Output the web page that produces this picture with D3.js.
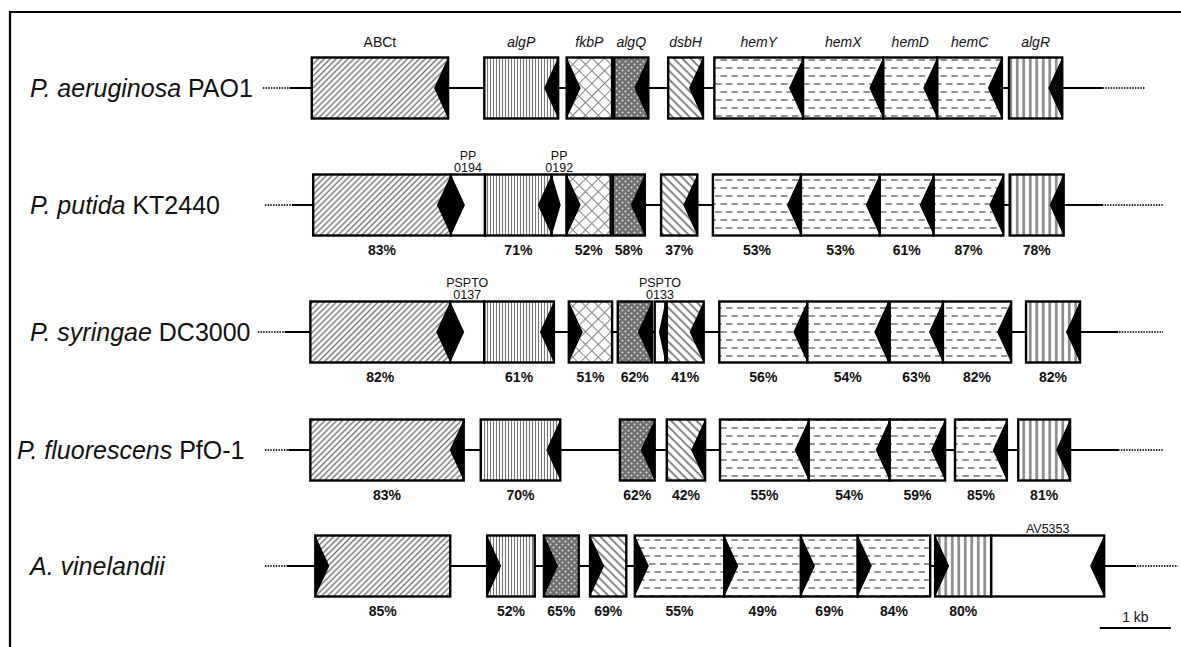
<!DOCTYPE html>
<html>
<head>
<meta charset="utf-8">
<script src="https://cdn.jsdelivr.net/npm/d3@7"></script>
<style>
  body { margin: 0; background: #fff; }
  svg { display: block; font-family: "Liberation Sans", Arial, Helvetica, sans-serif; }
</style>
</head>
<body>
<div id="chart"></div>
<script>
// row labels
const organisms = [
  { species: "P. aeruginosa", strain: " PAO1" },
  { species: "P. putida", strain: " KT2440" },
  { species: "P. syringae", strain: " DC3000" },
  { species: "P. fluorescens", strain: " PfO-1" },
  { species: "A. vinelandii", strain: "" }
];

// gene names printed above the PAO1 row
const geneNames = ["ABCt", "algP", "fkbP", "algQ", "dsbH", "hemY", "hemX", "hemD", "hemC", "algR"];

// genes per strain: start / end in kb, strand (-1 leftward, 1 rightward), identity to PAO1 in %
const pao1 = [
  { gene: "ABCt", start: 0.87, end: 2.79, strand: -1 },
  { gene: "algP", start: 3.30, end: 4.34, strand: -1 },
  { gene: "fkbP", start: 4.46, end: 5.10, strand: 1 },
  { gene: "algQ", start: 5.13, end: 5.61, strand: -1 },
  { gene: "dsbH", start: 5.89, end: 6.38, strand: -1 },
  { gene: "hemY", start: 6.54, end: 7.79, strand: -1 },
  { gene: "hemX", start: 7.79, end: 8.92, strand: -1 },
  { gene: "hemD", start: 8.92, end: 9.68, strand: -1 },
  { gene: "hemC", start: 9.68, end: 10.59, strand: -1 },
  { gene: "algR", start: 10.69, end: 11.44, strand: -1 }
];

const kt2440 = [
  { gene: "ABCt", start: 0.89, end: 2.83, strand: -1, id: 83 },
  { gene: "orf", start: 2.83, end: 3.31, strand: 1, tag: ["PP", "0194"] },
  { gene: "algP", start: 3.31, end: 4.25, strand: -1, id: 71 },
  { gene: "orf", start: 4.25, end: 4.46, strand: 1, tag: ["PP", "0192"] },
  { gene: "fkbP", start: 4.46, end: 5.08, strand: 1, id: 52 },
  { gene: "algQ", start: 5.11, end: 5.56, strand: -1, id: 58 },
  { gene: "dsbH", start: 5.79, end: 6.30, strand: -1, id: 37 },
  { gene: "hemY", start: 6.52, end: 7.76, strand: -1, id: 53 },
  { gene: "hemX", start: 7.76, end: 8.87, strand: -1, id: 53 },
  { gene: "hemD", start: 8.87, end: 9.63, strand: -1, id: 61 },
  { gene: "hemC", start: 9.63, end: 10.61, strand: -1, id: 87 },
  { gene: "algR", start: 10.70, end: 11.46, strand: -1, id: 78 }
];

const dc3000 = [
  { gene: "ABCt", start: 0.85, end: 2.82, strand: -1, id: 82 },
  { gene: "orf", start: 2.82, end: 3.30, strand: 1, tag: ["PSPTO", "0137"] },
  { gene: "algP", start: 3.30, end: 4.28, strand: -1, id: 61 },
  { gene: "fkbP", start: 4.49, end: 5.10, strand: 1, id: 51 },
  { gene: "algQ", start: 5.18, end: 5.66, strand: -1, id: 62 },
  { gene: "orf", start: 5.70, end: 5.85, strand: -1, tag: ["PSPTO", "0133"] },
  { gene: "dsbH", start: 5.87, end: 6.39, strand: -1, id: 41 },
  { gene: "hemY", start: 6.61, end: 7.85, strand: -1, id: 56 },
  { gene: "hemX", start: 7.85, end: 8.99, strand: -1, id: 54 },
  { gene: "hemD", start: 9.01, end: 9.76, strand: -1, id: 63 },
  { gene: "hemC", start: 9.76, end: 10.72, strand: -1, id: 82 },
  { gene: "algR", start: 10.93, end: 11.69, strand: -1, id: 82 }
];

const pfo1 = [
  { gene: "ABCt", start: 0.85, end: 3.01, strand: -1, id: 83 },
  { gene: "algP", start: 3.25, end: 4.37, strand: -1, id: 70 },
  { gene: "algQ", start: 5.21, end: 5.70, strand: -1, id: 62 },
  { gene: "dsbH", start: 5.87, end: 6.41, strand: -1, id: 42 },
  { gene: "hemY", start: 6.62, end: 7.87, strand: -1, id: 55 },
  { gene: "hemX", start: 7.87, end: 9.01, strand: -1, id: 54 },
  { gene: "hemD", start: 9.01, end: 9.79, strand: -1, id: 59 },
  { gene: "hemC", start: 9.93, end: 10.66, strand: -1, id: 85 },
  { gene: "algR", start: 10.82, end: 11.55, strand: -1, id: 81 }
];

const avin = [
  { gene: "ABCt", start: 0.92, end: 2.82, strand: 1, id: 85 },
  { gene: "algP", start: 3.34, end: 4.01, strand: 1, id: 52 },
  { gene: "algQ", start: 4.14, end: 4.63, strand: 1, id: 65 },
  { gene: "dsbH", start: 4.79, end: 5.30, strand: 1, id: 69 },
  { gene: "hemY", start: 5.42, end: 6.68, strand: 1, id: 55 },
  { gene: "hemX", start: 6.68, end: 7.76, strand: 1, id: 49 },
  { gene: "hemD", start: 7.76, end: 8.56, strand: 1, id: 69 },
  { gene: "hemC", start: 8.56, end: 9.58, strand: 1, id: 84 },
  { gene: "algR", start: 9.65, end: 10.44, strand: 1, id: 80 },
  { gene: "orf", start: 10.44, end: 12.03, strand: -1, tag: ["AV5353"] }
];

// chromosome backbone per row (kb): dotted ends and solid stretch
const backbones = [
  { dotted: [0.18, 12.61], solid: [0.56, 12.01] },
  { dotted: [0.21, 12.86], solid: [0.59, 12.01] },
  { dotted: [0.11, 12.86], solid: [0.49, 12.23] },
  { dotted: [0.21, 12.86], solid: [0.54, 12.23] },
  { dotted: [0.21, 13.07], solid: [0.52, 12.48] }
];

// 1 kb scale bar
const scaleBar = [11.97, 12.97];

const rows = [pao1, kt2440, dc3000, pfo1, avin];

const width = 1181, height = 647;
const boxH = 61, tipW = 14;

const x = d3.scaleLinear().domain([0, 13]).range([250, 250 + 13 * 71]);
const y = d3.scaleOrdinal().domain(d3.range(rows.length)).range([88, 205, 332, 450, 566]);

const svg = d3.select("#chart").append("svg")
  .attr("width", width)
  .attr("height", height);

// fill patterns for each gene family
const defs = svg.append("defs");

function linePattern(id, size, strokeW, color, angle) {
  const p = defs.append("pattern")
    .attr("id", id)
    .attr("patternUnits", "userSpaceOnUse")
    .attr("width", size).attr("height", size)
    .attr("patternTransform", `rotate(${angle})`);
  p.append("rect").attr("width", size).attr("height", size).attr("fill", "#fff");
  p.append("line")
    .attr("x1", size / 2).attr("x2", size / 2)
    .attr("y1", 0).attr("y2", size)
    .attr("stroke", color).attr("stroke-width", strokeW);
}

linePattern("pat-ABCt", 4.2, 1.4, "#707070", 45);
linePattern("pat-algP", 3, 1.1, "#777", 0);
linePattern("pat-dsbH", 6, 2, "#888", -45);
linePattern("pat-algR", 6.5, 2.6, "#888", 0);

// crosshatch
const cross = defs.append("pattern")
  .attr("id", "pat-fkbP")
  .attr("patternUnits", "userSpaceOnUse")
  .attr("width", 9).attr("height", 9)
  .attr("patternTransform", "rotate(45)");
cross.append("rect").attr("width", 9).attr("height", 9).attr("fill", "#fff");
cross.append("line").attr("x1", 0).attr("x2", 9).attr("y1", 0.5).attr("y2", 0.5)
  .attr("stroke", "#888").attr("stroke-width", 1.1);
cross.append("line").attr("x1", 0.5).attr("x2", 0.5).attr("y1", 0).attr("y2", 9)
  .attr("stroke", "#888").attr("stroke-width", 1.1);

// dark dotted
const dots = defs.append("pattern")
  .attr("id", "pat-algQ")
  .attr("patternUnits", "userSpaceOnUse")
  .attr("width", 6).attr("height", 6);
dots.append("rect").attr("width", 6).attr("height", 6).attr("fill", "#6f6f6f");
dots.append("circle").attr("cx", 1.5).attr("cy", 1.5).attr("r", 1).attr("fill", "#ddd");
dots.append("circle").attr("cx", 4.5).attr("cy", 4.5).attr("r", 1).attr("fill", "#ddd");

// dashes for the hem genes
const dash = defs.append("pattern")
  .attr("id", "pat-hem")
  .attr("patternUnits", "userSpaceOnUse")
  .attr("width", 11).attr("height", 16);
dash.append("rect").attr("width", 11).attr("height", 16).attr("fill", "#fff");
dash.append("line").attr("x1", 0).attr("x2", 6.5).attr("y1", 4).attr("y2", 4)
  .attr("stroke", "#808080").attr("stroke-width", 1.7);
dash.append("line").attr("x1", 5.5).attr("x2", 12).attr("y1", 12).attr("y2", 12)
  .attr("stroke", "#808080").attr("stroke-width", 1.7);
dash.append("line").attr("x1", -5.5).attr("x2", 1).attr("y1", 12).attr("y2", 12)
  .attr("stroke", "#808080").attr("stroke-width", 1.7);

function fillFor(gene) {
  if (gene.startsWith("hem")) return "url(#pat-hem)";
  if (gene === "orf") return "#fff";
  return `url(#pat-${gene})`;
}

// frame
svg.append("line")
  .attr("x1", 9).attr("x2", width).attr("y1", 12).attr("y2", 12)
  .attr("stroke", "#000").attr("stroke-width", 2.2);
svg.append("line")
  .attr("x1", 10).attr("x2", 10).attr("y1", 11).attr("y2", height)
  .attr("stroke", "#000").attr("stroke-width", 2.2);

rows.forEach((genes, i) => {
  const cy = y(i);
  const top = cy - boxH / 2, bottom = cy + boxH / 2;
  const g = svg.append("g");

  // organism name
  const label = g.append("text")
    .attr("x", i === 3 ? 17 : 30)
    .attr("y", cy + 9)
    .attr("font-size", 25)
    .attr("fill", "#111");
  label.append("tspan").attr("font-style", "italic").text(organisms[i].species);
  label.append("tspan").text(organisms[i].strain);

  // backbone
  const bb = backbones[i];
  g.append("line")
    .attr("x1", x(bb.dotted[0])).attr("x2", x(bb.dotted[1]))
    .attr("y1", cy).attr("y2", cy)
    .attr("stroke", "#333").attr("stroke-width", 2)
    .attr("stroke-dasharray", "1.5,1.2");
  g.append("line")
    .attr("x1", x(bb.solid[0])).attr("x2", x(bb.solid[1]))
    .attr("y1", cy).attr("y2", cy)
    .attr("stroke", "#000").attr("stroke-width", 2.2);

  const gene = g.selectAll("g.gene")
    .data(genes)
    .enter()
    .append("g")
    .attr("class", "gene");

  gene.append("rect")
    .attr("x", d => x(d.start))
    .attr("y", top)
    .attr("width", d => x(d.end) - x(d.start))
    .attr("height", boxH)
    .attr("fill", d => fillFor(d.gene));

  // black arrowhead notch
  gene.append("path")
    .attr("d", d => {
      const x0 = x(d.start), x1 = x(d.end);
      const w = Math.min(tipW, (x1 - x0) * 0.6);
      if (d.strand < 0) return `M${x1},${top}L${x1 - w},${cy}L${x1},${bottom}Z`;
      return `M${x0},${top}L${x0 + w},${cy}L${x0},${bottom}Z`;
    })
    .attr("fill", "#000");

  gene.append("rect")
    .attr("x", d => x(d.start))
    .attr("y", top)
    .attr("width", d => x(d.end) - x(d.start))
    .attr("height", boxH)
    .attr("fill", "none")
    .attr("stroke", "#000")
    .attr("stroke-width", 2.4);

  // identity percentages
  gene.filter(d => d.id != null)
    .append("text")
    .attr("x", d => x((d.start + d.end) / 2))
    .attr("y", bottom + 19)
    .attr("text-anchor", "middle")
    .attr("font-size", 14)
    .attr("font-weight", "bold")
    .attr("fill", "#111")
    .text(d => d.id + "%");

  // small ORF tags (two stacked lines for PP / PSPTO)
  gene.filter(d => d.tag)
    .each(function (d) {
      const n = d.tag.length;
      d.tag.forEach((t, k) => {
        d3.select(this).append("text")
          .attr("x", x((d.start + d.end) / 2))
          .attr("y", top - 3 - (n - 1 - k) * 12)
          .attr("text-anchor", "middle")
          .attr("font-size", 12.5)
          .attr("fill", "#111")
          .text(t);
      });
    });

  // gene names over the first row
  if (i === 0) {
    gene.append("text")
      .attr("x", d => x((d.start + d.end) / 2))
      .attr("y", top - 11)
      .attr("text-anchor", "middle")
      .attr("font-size", 14)
      .attr("font-style", d => d.gene === "ABCt" ? "normal" : "italic")
      .attr("fill", "#111")
      .text((d, k) => geneNames[k]);
  }
});

// scale bar
const yBar = y(4) + 62;
svg.append("line")
  .attr("x1", x(scaleBar[0])).attr("x2", x(scaleBar[1]))
  .attr("y1", yBar).attr("y2", yBar)
  .attr("stroke", "#000").attr("stroke-width", 2.2);
svg.append("text")
  .attr("x", x((scaleBar[0] + scaleBar[1]) / 2))
  .attr("y", yBar - 6)
  .attr("text-anchor", "middle")
  .attr("font-size", 14)
  .attr("fill", "#111")
  .text("1 kb");
</script>
</body>
</html>
